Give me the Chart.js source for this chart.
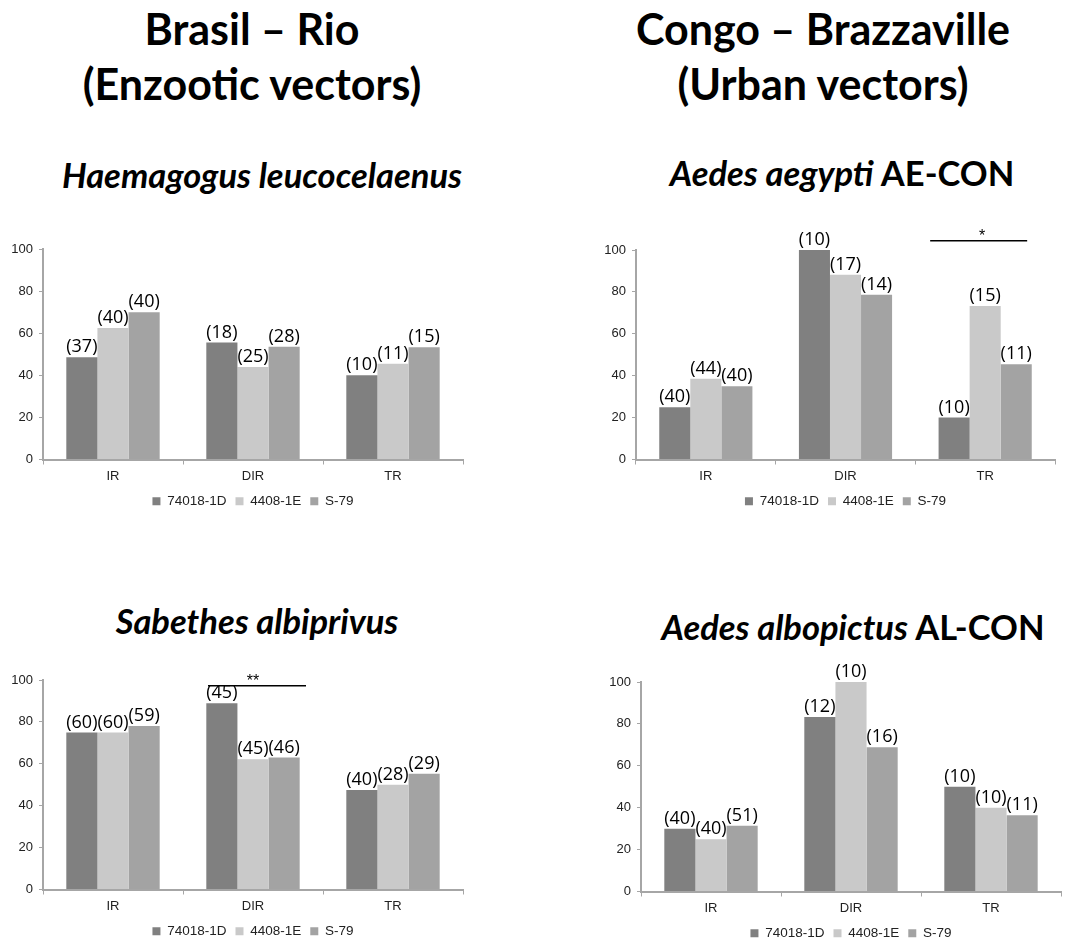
<!DOCTYPE html>
<html>
<head>
<meta charset="utf-8">
<script src="https://cdn.jsdelivr.net/npm/chart.js@4.4.1/dist/chart.umd.min.js"></script>
<style>
    body { margin: 0; background: #fff; width: 1068px; height: 940px; position: relative; overflow: hidden; }
    .ttl { position: absolute; width: 600px; text-align: center; white-space: nowrap; line-height: 1; font-family: 'Lato', sans-serif; font-weight: bold; color: #000; }
    .main { font-size: 43px; }
    .sub { font-size: 34.5px; }
    .sub i { font-style: italic; }
    canvas { position: absolute; }
</style>
</head>
<body>
<div class="ttl main" style="left:-48px; top:7px;">Brasil – Rio</div>
<div class="ttl main" style="left:-48px; top:62px;">(Enzootic vectors)</div>
<div class="ttl main" style="left:523px; top:7px;">Congo – Brazzaville</div>
<div class="ttl main" style="left:523px; top:62px;">(Urban vectors)</div>
<div class="ttl sub" style="left:-38px; top:158px;"><i>Haemagogus leucocelaenus</i></div>
<div class="ttl sub" style="left:542px; top:156px;"><i>Aedes aegypti</i> AE-CON</div>
<div class="ttl sub" style="left:-43px; top:604px;"><i>Sabethes albiprivus</i></div>
<div class="ttl sub" style="left:553px; top:610px;"><i>Aedes albopictus</i> AL-CON</div>

<canvas id="chartHae" width="530" height="298" style="left:0px; top:220px;"></canvas>
<canvas id="chartAeg" width="475" height="298" style="left:593px; top:220px;"></canvas>
<canvas id="chartSab" width="530" height="298" style="left:0px; top:650px;"></canvas>
<canvas id="chartAlb" width="470" height="298" style="left:598px; top:652px;"></canvas>

<script>
// categorias y cepas
const categories = ['IR', 'DIR', 'TR'];
const strains = ['74018-1D', '4408-1E', 'S-79'];
const yTicks = [0, 20, 40, 60, 80, 100];

// Haemagogus leucocelaenus (%)
const haeVal74018 = [48.6, 55.6, 40.0];
const haeVal4408 = [62.5, 44.0, 45.5];
const haeValS79 = [70.0, 53.6, 53.3];
// numero de mosquitos (n)
const haeN74018 = [37, 18, 10];
const haeN4408 = [40, 25, 11];
const haeNS79 = [40, 28, 15];

// Aedes aegypti AE-CON
const aegVal74018 = [25.0, 100, 20.0];
const aegVal4408 = [38.6, 88.2, 73.3];
const aegValS79 = [35.0, 78.6, 45.5];
const aegN74018 = [40, 10, 10];
const aegN4408 = [44, 17, 15];
const aegNS79 = [40, 14, 11];

// Sabethes albiprivus
const sabVal74018 = [75.0, 88.9, 47.5];
const sabVal4408 = [75.0, 62.2, 50.0];
const sabValS79 = [78.0, 63.0, 55.2];
const sabN74018 = [60, 45, 40];
const sabN4408 = [60, 45, 28];
const sabNS79 = [59, 46, 29];

// Aedes albopictus AL-CON
const albVal74018 = [30.0, 83.3, 50.0];
const albVal4408 = [25.0, 100, 40.0];
const albValS79 = [31.4, 68.8, 36.4];
const albN74018 = [40, 12, 10];
const albN4408 = [40, 10, 10];
const albNS79 = [51, 16, 11];

const barColors = ['#808080', '#c9c9c9', '#a3a3a3'];
const axisColor = '#a6a6a6';
const tickFont = { family: "'Liberation Sans', Arial, sans-serif", size: 13 };
const legendFont = { family: "'Liberation Sans', Arial, sans-serif", size: 13.5 };

// etiquetas (n) encima de cada barra
const nLabels = {
    id: 'nLabels',
    afterDatasetsDraw(chart) {
        const ctx = chart.ctx;
        ctx.save();
        ctx.font = "18px 'Open Sans', sans-serif";
        ctx.fillStyle = '#000';
        ctx.textAlign = 'center';
        ctx.textBaseline = 'bottom';
        chart.data.datasets.forEach((ds, i) => {
            chart.getDatasetMeta(i).data.forEach((bar, j) => {
                ctx.fillText('(' + ds.counts[j] + ')', bar.x, bar.y - 1);
            });
        });
        ctx.restore();
    }
};

// linea de significancia con asteriscos
const sigBar = {
    id: 'sigBar',
    afterDatasetsDraw(chart, args, opts) {
        if (!opts || !opts.text) return;
        const ctx = chart.ctx;
        const x = chart.scales.x.getPixelForValue(categories.indexOf(opts.category));
        const y = chart.scales.y.getPixelForValue(opts.level);
        ctx.save();
        ctx.strokeStyle = '#000';
        ctx.lineWidth = 1.5;
        ctx.beginPath();
        ctx.moveTo(x + opts.from, y);
        ctx.lineTo(x + opts.to, y);
        ctx.stroke();
        ctx.font = "16px 'Liberation Sans', Arial, sans-serif";
        ctx.fillStyle = '#000';
        ctx.textAlign = 'center';
        ctx.textBaseline = 'bottom';
        ctx.fillText(opts.text, x + opts.textDx, y + 4);
        ctx.restore();
    }
};

function buildChart(id, values, counts, padding, sig) {
    return new Chart(document.getElementById(id), {
        type: 'bar',
        data: {
            labels: categories,
            datasets: strains.map((s, i) => ({
                label: s,
                data: values[i],
                counts: counts[i],
                backgroundColor: barColors[i],
                borderWidth: 0,
                categoryPercentage: 0.667,
                barPercentage: 1
            }))
        },
        options: {
            responsive: false,
            animation: false,
            layout: { padding: padding },
            plugins: {
                legend: {
                    position: 'bottom',
                    fullSize: false,
                    labels: { boxWidth: 8, boxHeight: 8, padding: 9, color: '#222', font: legendFont }
                },
                tooltip: { enabled: false },
                sigBar: sig || {}
            },
            scales: {
                x: {
                    grid: { drawOnChartArea: false, tickLength: 5, color: axisColor, offset: true },
                    border: { color: axisColor, width: 2 },
                    ticks: { color: '#222', font: tickFont, padding: 4 },
                    afterFit(s) { s.height = 26; }
                },
                y: {
                    min: 0,
                    max: 100,
                    afterBuildTicks(s) { s.ticks = yTicks.map(v => ({ value: v })); },
                    grid: { drawOnChartArea: false, tickLength: 4, color: axisColor },
                    border: { color: axisColor, width: 2 },
                    ticks: { color: '#222', font: tickFont, padding: 6 },
                    afterFit(s) { s.width = 43; }
                }
            }
        },
        plugins: [nLabels, sigBar]
    });
}

buildChart('chartHae',
    [haeVal74018, haeVal4408, haeValS79],
    [haeN74018, haeN4408, haeNS79],
    { top: 29, right: 67, bottom: 0, left: 0 });

buildChart('chartAeg',
    [aegVal74018, aegVal4408, aegValS79],
    [aegN74018, aegN4408, aegNS79],
    { top: 30, right: 13, bottom: 0, left: 0 },
    { category: 'TR', level: 104.4, text: '*', from: -55, to: 42, textDx: -3 });

buildChart('chartSab',
    [sabVal74018, sabVal4408, sabValS79],
    [sabN74018, sabN4408, sabNS79],
    { top: 30, right: 67, bottom: 0, left: 0 },
    { category: 'DIR', level: 97.3, text: '**', from: -45, to: 53, textDx: 0 });

buildChart('chartAlb',
    [albVal74018, albVal4408, albValS79],
    [albN74018, albN4408, albNS79],
    { top: 30, right: 7, bottom: 0, left: 0 });
</script>
</body>
</html>
